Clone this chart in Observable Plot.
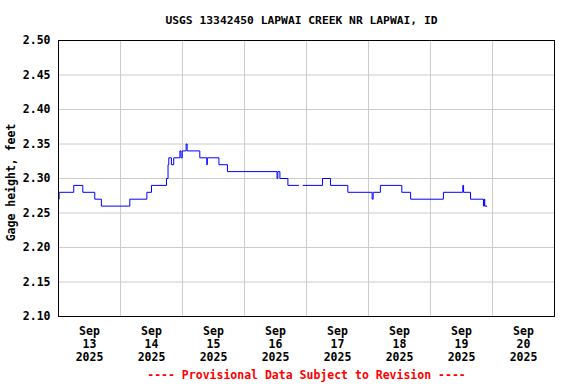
<!DOCTYPE html>
<html>
<head>
<meta charset="utf-8">
<script src="https://cdn.jsdelivr.net/npm/d3@7"></script>
<script src="https://cdn.jsdelivr.net/npm/@observablehq/plot@0.6"></script>
<style>
  html, body { margin: 0; padding: 0; background: #fff; }
  svg { display: block; }
</style>
</head>
<body>
<div id="chart"></div>
<script>
const titleText = "USGS 13342450 LAPWAI CREEK NR LAPWAI, ID";
const yLabelText = "Gage height, feet";
const captionText = "---- Provisional Data Subject to Revision ----";

const startTime = "2025-09-13T00:00:00Z";
const endTime = "2025-09-21T00:00:00Z";

// hours since start, gage height (ft); null = data gap
const hoursSinceStart = [0, 0.25, 5.9, 9.4, 14.05, 16.6, 27.6, 34.2, 36.0, 41.8, 42.4, 42.7, 43.7, 44.6, 47.0, 47.4, 47.9, 49.4, 49.8, 54.7, 57.4, 57.6, 62.1, 65.4, 84.6, 84.9, 85.7, 88.8, 93.0, 93.1, 94.7, 102.2, 105.3, 112.0, 121.4, 121.8, 124.6, 132.9, 136.3, 149.0, 156.5, 156.8, 159.5, 164.5, 164.8, 165.0, 165.9];
const gageHeight = [2.27, 2.28, 2.29, 2.28, 2.27, 2.26, 2.27, 2.28, 2.29, 2.30, 2.32, 2.33, 2.32, 2.33, 2.34, 2.33, 2.34, 2.35, 2.34, 2.33, 2.32, 2.33, 2.32, 2.31, 2.30, 2.31, 2.30, 2.29, 2.29, null, 2.29, 2.30, 2.29, 2.28, 2.27, 2.28, 2.29, 2.28, 2.27, 2.28, 2.29, 2.28, 2.27, 2.26, 2.27, 2.26, 2.26];

const yTicks = [2.10, 2.15, 2.20, 2.25, 2.30, 2.35, 2.40, 2.45, 2.50];
const dayLabels = ["2025-09-13", "2025-09-14", "2025-09-15", "2025-09-16", "2025-09-17", "2025-09-18", "2025-09-19", "2025-09-20"];
const dayBoundaries = ["2025-09-14", "2025-09-15", "2025-09-16", "2025-09-17", "2025-09-18", "2025-09-19", "2025-09-20"];

const t0 = new Date(startTime).getTime();
const data = hoursSinceStart.map((h, i) => ({
  time: new Date(t0 + h * 3600 * 1000),
  value: gageHeight[i] == null ? NaN : gageHeight[i]
}));
const noonTicks = dayLabels.map(d => new Date(d + "T12:00:00Z"));
const midnightTicks = dayBoundaries.map(d => new Date(d + "T00:00:00Z"));
const fmtTick = d3.utcFormat("%b\n%-d\n%Y");

const font = "'DejaVu Sans Mono', 'Liberation Mono', monospace";

const chart = Plot.plot({
  width: 576,
  height: 384,
  marginTop: 40,
  marginLeft: 58,
  marginRight: 22,
  marginBottom: 68,
  style: { fontFamily: font, fontSize: "11.5px", fontWeight: "bold", color: "#000", background: "#fff" },
  x: { type: "utc", domain: [new Date(startTime), new Date(endTime)] },
  y: { domain: [2.10, 2.50] },
  marks: [
    Plot.gridY(yTicks.slice(1, -1), { stroke: "#cccccc", strokeOpacity: 1, strokeWidth: 1 }),
    Plot.gridX(midnightTicks, { stroke: "#cccccc", strokeOpacity: 1, strokeWidth: 1 }),
    Plot.line(data, { x: "time", y: "value", curve: "step-after", stroke: "#0000ff", strokeWidth: 1 }),
    Plot.frame({ stroke: "#000", strokeWidth: 1 }),
    Plot.axisY(yTicks, { tickSize: 0, tickPadding: 8, tickFormat: d => d.toFixed(2), label: null, fontWeight: "bold" }),
    Plot.axisX(noonTicks, { tickSize: 0, tickPadding: 9, tickFormat: fmtTick, label: null, lineHeight: 1.13, fontWeight: "bold" }),
    Plot.text([titleText], { frameAnchor: "top", dy: -20, dx: -5, lineAnchor: "middle", fontWeight: "bold", fontSize: 11.3 }),
    Plot.text([yLabelText], { frameAnchor: "left", dx: -47, dy: 4, rotate: -90, textAnchor: "middle", lineAnchor: "middle", fontWeight: "bold" }),
    Plot.text([captionText], { frameAnchor: "bottom", dy: 59, lineAnchor: "middle", fill: "#ff0000", fontWeight: "bold" })
  ]
});
document.getElementById("chart").appendChild(chart);
</script>
</body>
</html>
